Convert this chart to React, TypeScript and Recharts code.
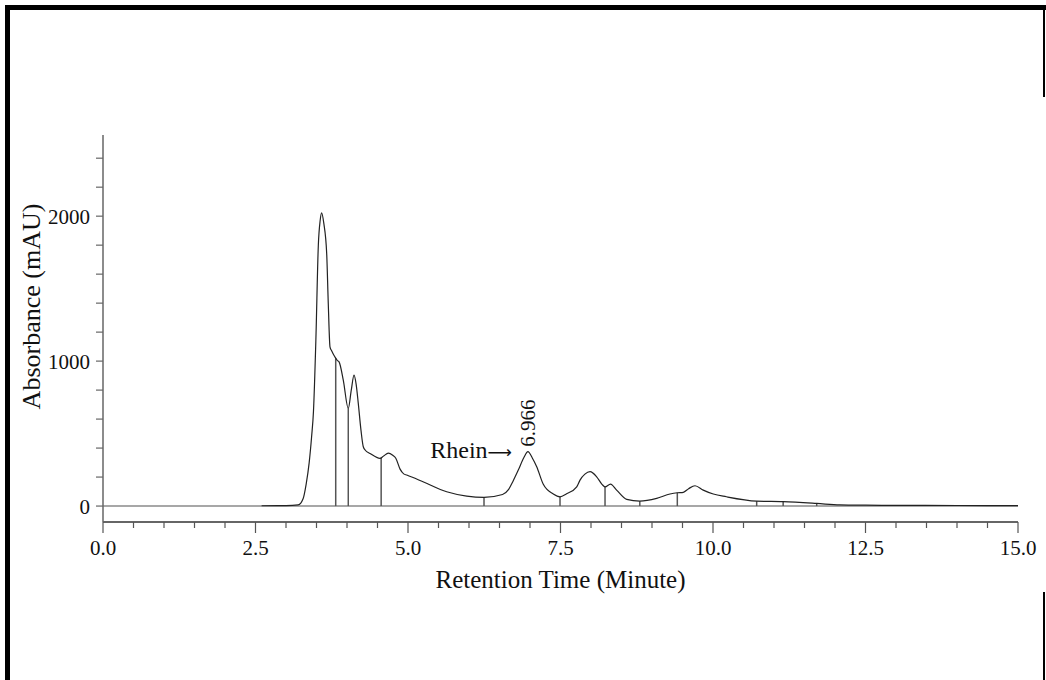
import { LineChart, Line, XAxis, YAxis, ReferenceLine, ReferenceDot } from 'recharts';

// retention time (min) and absorbance (mAU)
const times = [
    2.6, 3.0, 3.2, 3.28, 3.33, 3.38, 3.42, 3.45, 3.49, 3.53, 3.56, 3.585, 3.62, 3.667, 3.693, 3.721,
    3.75, 3.8, 3.84, 3.87, 3.939, 4.021, 4.07, 4.115, 4.15, 4.185, 4.23, 4.267, 4.3, 4.377,
    4.541, 4.6, 4.677, 4.75, 4.8, 4.87, 4.93, 4.98, 5.246, 5.634, 5.962, 6.246, 6.55, 6.65,
    6.72, 6.808, 6.9, 6.966, 7.04, 7.11, 7.218, 7.382, 7.492, 7.6, 7.766, 7.82, 7.9, 7.984,
    8.093, 8.18, 8.23, 8.32, 8.42, 8.585, 8.8, 9.077, 9.295, 9.415, 9.513, 9.6, 9.705, 9.84,
    10.005, 10.22, 10.716, 11.15, 11.7, 12.08, 12.5, 13.0, 14.0, 15.0,
];
const absorbance = [
    2, 3, 8, 50, 150, 300, 480, 650, 1150, 1800, 1970, 2023, 1950, 1743, 1398, 1099,
    1070, 1030, 1005, 995, 869, 674, 800, 903, 840, 708, 520, 409, 385, 363,
    329, 345, 365, 350, 330, 255, 222, 214, 168, 99, 69, 60, 80, 115,
    170, 248, 335, 375, 330, 271, 150, 83, 64, 85, 133, 179, 220, 237,
    202, 150, 133, 152, 110, 46, 34, 53, 83, 92, 95, 120, 140, 110,
    83, 64, 34, 30, 18, 8, 6, 5, 4, 3,
];

// integration drop lines
const dropTimes = [3.815, 4.021, 4.56, 6.246, 7.492, 8.23, 8.8, 9.415, 10.716, 11.15, 11.7];
const dropHeights = [1020, 674, 335, 60, 64, 133, 34, 92, 34, 30, 18];

const xTicks = [
    0, 0.5, 1, 1.5, 2, 2.5, 3, 3.5, 4, 4.5, 5, 5.5, 6, 6.5, 7, 7.5, 8, 8.5, 9, 9.5, 10,
    10.5, 11, 11.5, 12, 12.5, 13, 13.5, 14, 14.5, 15,
];
const yTicks = [0, 200, 400, 600, 800, 1000, 1200, 1400, 1600, 1800, 2000, 2200, 2400];

const rheinTime = 6.966;
const rheinPeak = 375;

const data = times.map((t, i) => ({ t, v: absorbance[i] }));

const serif = "'Liberation Serif', 'Times New Roman', serif";

const XTick = (props: any) => {
    const { x, y, payload } = props;
    const v = payload.value;
    const major = Math.abs(v / 2.5 - Math.round(v / 2.5)) < 1e-6;
    return (
        <g>
            <line x1={x} y1={y} x2={x} y2={y + (major ? 11 : 6)} stroke="#555" strokeWidth={1.2} />
            {major && (
                <text x={x} y={y + 33} textAnchor="middle" fontSize={21} fill="#111" fontFamily={serif}>
                    {v.toFixed(1)}
                </text>
            )}
        </g>
    );
};

const RheinLabel = (props: any) => {
    const { viewBox } = props;
    const cx = viewBox.x + (viewBox.width || 0) / 2;
    const cy = viewBox.y + (viewBox.height || 0) / 2;
    return (
        <g>
            <text x={cx - 16} y={cy + 6} textAnchor="end" fontSize={24} fill="#111" fontFamily={serif}>
                Rhein
                <tspan fontFamily="DejaVu Sans" fontSize={17}>
                    ⟶
                </tspan>
            </text>
            <text
                x={cx + 7}
                y={cy - 5}
                textAnchor="start"
                fontSize={21}
                fill="#111"
                fontFamily={serif}
                transform={`rotate(-90, ${cx + 7}, ${cy - 5})`}
            >
                6.966
            </text>
        </g>
    );
};

const App = () => {
    return (
        <div
            style={{
                position: 'absolute',
                left: 0,
                top: 0,
                width: 1046,
                height: 680,
                background: '#fff',
                fontFamily: serif,
                overflow: 'hidden',
            }}
        >
            <div style={{ position: 'absolute', left: 5, top: 5, width: 5, height: 675, background: '#000' }} />
            <div style={{ position: 'absolute', left: 5, top: 5, width: 1041, height: 5, background: '#000' }} />
            <div style={{ position: 'absolute', left: 1043, top: 5, width: 2, height: 92, background: '#000' }} />
            <div style={{ position: 'absolute', left: 1043, top: 592, width: 2, height: 88, background: '#000' }} />

            <div style={{ position: 'absolute', left: 0, top: 0 }}>
                <LineChart width={1046} height={680} data={data} margin={{ top: 135, right: 28, bottom: 98, left: 0 }}>
                    <XAxis
                        dataKey="t"
                        type="number"
                        domain={[0, 15]}
                        ticks={xTicks}
                        interval={0}
                        height={60}
                        tickSize={0}
                        tickMargin={0}
                        tickLine={false}
                        tick={<XTick />}
                        axisLine={{ stroke: '#333', strokeWidth: 1.5 }}
                        label={{
                            content: (p: any) => (
                                <text
                                    x={p.viewBox.x + p.viewBox.width / 2}
                                    y={p.viewBox.y + 66}
                                    textAnchor="middle"
                                    fontSize={25}
                                    fill="#111"
                                    fontFamily={serif}
                                >
                                    Retention Time (Minute)
                                </text>
                            ),
                        }}
                    />
                    <YAxis
                        type="number"
                        domain={[-110, 2560]}
                        ticks={yTicks}
                        interval={0}
                        width={103}
                        tickSize={7}
                        tickMargin={6}
                        tickLine={{ stroke: '#666', strokeWidth: 1.2 }}
                        axisLine={{ stroke: '#666', strokeWidth: 1.5 }}
                        tick={{ fill: '#111', fontSize: 21, fontFamily: serif }}
                        tickFormatter={(v: number) => (v % 1000 === 0 ? String(v) : '')}
                        label={{
                            content: (p: any) => {
                                const x = p.viewBox.x + 40;
                                const y = p.viewBox.y + p.viewBox.height / 2 - 22;
                                return (
                                    <text
                                        x={x}
                                        y={y}
                                        textAnchor="middle"
                                        fontSize={26}
                                        fill="#111"
                                        fontFamily={serif}
                                        transform={`rotate(-90, ${x}, ${y})`}
                                    >
                                        Absorbance (mAU)
                                    </text>
                                );
                            },
                        }}
                    />
                    <ReferenceLine y={0} stroke="#8a8a8a" strokeWidth={1.5} />
                    {dropTimes.map((t, i) => (
                        <ReferenceLine
                            key={t}
                            segment={[
                                { x: t, y: 0 },
                                { x: t, y: dropHeights[i] },
                            ]}
                            stroke="#555"
                            strokeWidth={1.5}
                        />
                    ))}
                    <Line
                        type="monotone"
                        dataKey="v"
                        stroke="#222"
                        strokeWidth={1.2}
                        dot={false}
                        isAnimationActive={false}
                    />
                    <ReferenceDot
                        x={rheinTime}
                        y={rheinPeak}
                        r={0}
                        fill="none"
                        stroke="none"
                        label={{ content: RheinLabel }}
                    />
                </LineChart>
            </div>
        </div>
    );
};

export default App;
